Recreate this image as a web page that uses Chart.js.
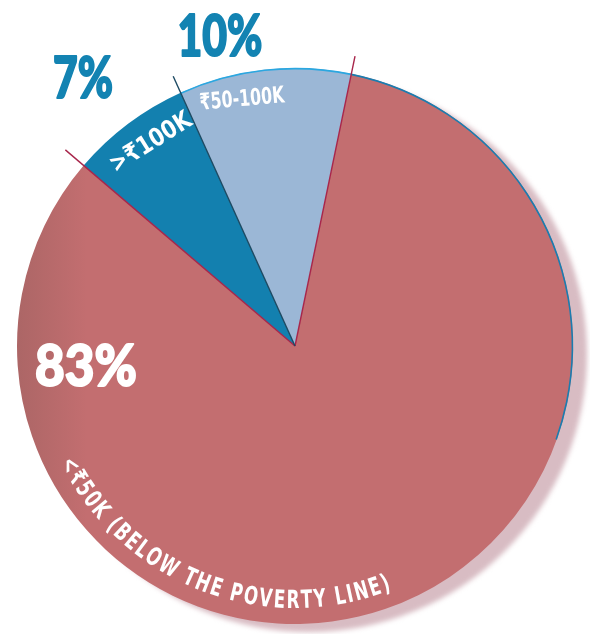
<!DOCTYPE html>
<html>
<head>
<meta charset="utf-8">
<script src="https://cdn.jsdelivr.net/npm/chart.js@4"></script>
<style>
  html, body { margin: 0; padding: 0; background: #ffffff; }
  #wrap { width: 590px; height: 634px; position: relative; }
</style>
</head>
<body>
<div id="wrap"><canvas id="chart"></canvas></div>
<script>
// Household income groups and their share of households (%)
const categories = ['<₹50K (BELOW THE POVERTY LINE)', '>₹100K', '₹50-100K'];
const shares = [83, 7, 10];
const percentLabels = shares.map(v => v + '%');

// Styling
const sliceColors = ['#c36e70', '#1380af', '#9bb7d6'];
const PCT_FONT = '"Lato", "Inter", "Open Sans", sans-serif';
const NARROW_FONT = '"Liberation Sans Narrow", "DejaVu Sans Condensed", "Noto Sans", sans-serif';

// Per-slice label placement, in pixels relative to the pie centre
const pctPlacement = [
  { dx: -209, dy: 21, color: '#ffffff', size: 58, width: 102 },
  { dx: -212, dy: -267, color: '#1383b2', size: 58, width: 60 },
  { dx: -75, dy: -309, color: '#1383b2', size: 58, width: 85 }
];
const namePlacement = [
  null, // drawn along the rim instead
  { dx: -144, dy: -203, rot: -32, size: 25, width: 92 },
  { dx: -53, dy: -246, rot: -5, size: 23, width: 85 }
];
// Dividing lines at the start edge of each slice
const edgeStyles = [
  { color: '#a8264b', ext: 18 },
  { color: '#a8264b', ext: 24 },
  { color: '#1d4a63', ext: 18 }
];

function drawFitted(ctx, text, x, y, rot, font, color, width, stroke) {
  ctx.save();
  ctx.font = font;
  const w = ctx.measureText(text).width;
  ctx.translate(x, y);
  ctx.rotate(rot * Math.PI / 180);
  if (width) ctx.scale(width / w, 1);
  ctx.fillStyle = color;
  ctx.strokeStyle = color;
  ctx.lineWidth = stroke;
  ctx.lineJoin = 'round';
  ctx.textAlign = 'center';
  ctx.textBaseline = 'middle';
  if (stroke) ctx.strokeText(text, 0, 0);
  ctx.fillText(text, 0, 0);
  ctx.restore();
}

// Text laid along a circle, letters upright towards the centre, reading with angle decreasing
function drawArcText(ctx, text, cx, cy, radius, midAngle, font, color, spacing, arcLength) {
  ctx.save();
  ctx.font = font;
  ctx.fillStyle = color;
  ctx.textAlign = 'center';
  ctx.textBaseline = 'alphabetic';
  const chars = Array.from(text);
  const raw = chars.map(ch => ctx.measureText(ch).width);
  const rawTotal = raw.reduce((a, b) => a + b, 0) + spacing * (chars.length - 1);
  const sx = arcLength / rawTotal;
  const widths = raw.map(w => (w + spacing) * sx);
  let phi = midAngle + (arcLength / 2) / radius;
  chars.forEach((ch, i) => {
    const a = phi - (raw[i] * sx / 2) / radius;
    ctx.save();
    ctx.translate(cx + Math.cos(a) * radius, cy + Math.sin(a) * radius);
    ctx.rotate(a - Math.PI / 2);
    ctx.scale(sx, 1);
    ctx.fillText(ch, 0, 0);
    ctx.restore();
    phi -= widths[i] / radius;
  });
  ctx.restore();
}

const pieDecor = {
  id: 'pieDecor',
  beforeDatasetsDraw(chart) {
    const arc = chart.getDatasetMeta(0).data[0];
    const ctx = chart.ctx;
    ctx.save();
    ctx.filter = 'blur(2.5px)';
    ctx.fillStyle = '#d8bcc3';
    ctx.beginPath();
    ctx.arc(arc.x + 14, arc.y + 8, arc.outerRadius, 0, Math.PI * 2);
    ctx.fill();
    ctx.restore();
  },
  afterDatasetsDraw(chart) {
    const ctx = chart.ctx;
    const arcs = chart.getDatasetMeta(0).data;
    const cx = arcs[0].x, cy = arcs[0].y, r = arcs[0].outerRadius;

    // rim strokes
    ctx.save();
    ctx.lineWidth = 1.6;
    ctx.strokeStyle = '#1a7db0';
    ctx.beginPath();
    ctx.arc(cx, cy, r - 0.6, arcs[0].startAngle, arcs[0].startAngle + 98 * Math.PI / 180);
    ctx.stroke();
    ctx.strokeStyle = '#2ba7e0';
    ctx.beginPath();
    ctx.arc(cx, cy, r - 0.6, arcs[2].startAngle, arcs[2].endAngle);
    ctx.stroke();
    ctx.restore();

    // dividing lines
    arcs.forEach((a, i) => {
      const st = edgeStyles[i];
      const ang = a.startAngle;
      ctx.save();
      ctx.strokeStyle = st.color;
      ctx.lineWidth = 1.4;
      ctx.beginPath();
      ctx.moveTo(cx, cy);
      ctx.lineTo(cx + Math.cos(ang) * (r + st.ext), cy + Math.sin(ang) * (r + st.ext));
      ctx.stroke();
      ctx.restore();
    });

    // percentages
    percentLabels.forEach((t, i) => {
      const p = pctPlacement[i];
      drawFitted(ctx, t, cx + p.dx, cy + p.dy, 0, `900 ${p.size}px ${PCT_FONT}`, p.color, p.width, 2);
    });

    // slice names
    namePlacement.forEach((p, i) => {
      if (!p) return;
      drawFitted(ctx, categories[i], cx + p.dx, cy + p.dy, p.rot,
        `bold ${p.size}px ${NARROW_FONT}`, '#ffffff', p.width, 0);
    });

    // curved name of the largest slice
    drawArcText(ctx, categories[0], cx, cy, r - 16, 111 * Math.PI / 180,
      `bold 25px ${NARROW_FONT}`, '#ffffff', 2.5, 390);
  }
};

new Chart(document.getElementById('chart'), {
  type: 'pie',
  data: {
    labels: categories,
    datasets: [{
      data: shares,
      borderWidth: 0,
      backgroundColor: (c) => {
        if (c.index !== 0) return sliceColors[c.index];
        const ch = c.chart;
        const left = ch.chartArea ? ch.chartArea.left : 17;
        const g = ch.ctx.createLinearGradient(left, 0, left + 70, 0);
        g.addColorStop(0, '#ac6666');
        g.addColorStop(1, sliceColors[0]);
        return g;
      }
    }]
  },
  options: {
    responsive: true,
    maintainAspectRatio: false,
    animation: false,
    rotation: 11.7,
    layout: { padding: { left: 17, right: 17, top: 68, bottom: 10 } },
    plugins: { legend: { display: false }, tooltip: { enabled: false } },
    events: []
  },
  plugins: [pieDecor]
});
</script>
</body>
</html>
